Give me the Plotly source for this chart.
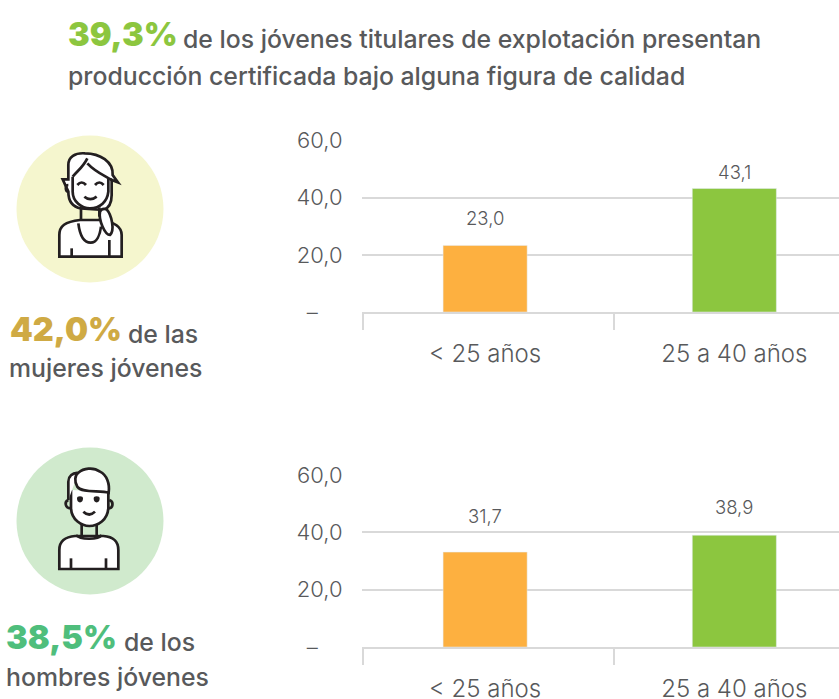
import re
import plotly.graph_objects as go

W, H = 839, 699
categories = ["< 25 años", "25 a 40 años"]
women_bars = [23.3, 43.2]
men_bars = [33.1, 39.0]
women_labels = ["23,0", "43,1"]
men_labels = ["31,7", "38,9"]
y_ticks = [0, 20, 40, 60]
y_ticktext = ["–\u00a0\u00a0\u00a0\u00a0", "20,0", "40,0", "60,0"]
bar_colors = ["#FDB040", "#8CC63F"]

FONT = "Inter"
GREY = "#58595B"
LIGHT = "#D9D9D9"
INK = "#231F20"


def px(x):
    return x / W


def py(y):
    return 1 - y / H


def zpath(d, ox, oy):
    """Icon path written in 3x crop units -> paper fractions."""
    def conv(m):
        x, y = float(m.group(1)), float(m.group(2))
        return f"{px(ox + x / 3):.5f},{py(oy + y / 3):.5f}"
    return re.sub(r"(-?\d+\.?\d*),(-?\d+\.?\d*)", conv, d)


def circle(cx, cy, r, color):
    return dict(type="circle", xref="paper", yref="paper", x0=px(cx - r), x1=px(cx + r),
                y0=py(cy + r), y1=py(cy - r), fillcolor=color, line_width=0, layer="below")


def icon(paths, ox, oy):
    out = []
    for d, fill in paths:
        out.append(dict(type="path", xref="paper", yref="paper", path=zpath(d, ox, oy),
                        fillcolor=fill, line=dict(color=INK, width=2.7), layer="above"))
    return out


T = "rgba(0,0,0,0)"
woman = [
    ("M178,410 L178,345 C178,318 195,305 240,300 L300,300 C340,305 365,320 365,345 L365,410 Z", "white"),
    ("M235,310 C240,350 255,368 272,368 C290,368 300,345 303,320", T),
    ("M215,410 L215,385", T),
    ("M328,410 L328,360", T),
    ("M188,178 L205,178 L205,135 C205,110 225,98 255,100 C300,100 340,125 338,165 L354,187 L335,180 L335,225 C335,250 325,265 310,270 L243,265 C215,260 205,240 205,215 Z", "white"),
    ("M243,262 L243,300", T),
    ("M298,262 L298,290", T),
    ("M218,170 L218,215 C218,245 245,265 270,265 C300,265 322,245 325,215 L325,175", T),
    ("M218,170 C235,150 250,140 262,115", T),
    ("M262,130 C285,155 310,165 335,180", T),
    ("M205,195 C195,195 195,215 205,215", T),
    ("M300,275 C295,300 315,345 330,345 C345,330 335,285 320,268 C310,265 303,268 300,275 Z", "white"),
    ("M232,195 Q245,180 258,195", T),
    ("M285,195 Q298,180 311,195", T),
    ("M253,230 Q271,245 290,230", T),
]
man = [
    ("M178,387 L178,330 C178,305 195,290 225,288 L310,288 C340,290 355,305 355,330 L355,387 Z", "white"),
    ("M228,285 C240,300 295,300 305,285", T),
    ("M245,255 L245,285", T),
    ("M290,255 L290,285", T),
    ("M213,387 L213,355", T),
    ("M318,387 L318,355", T),
    ("M205,180 C192,185 195,205 213,205", T),
    ("M328,180 C342,185 340,205 325,205", T),
    ("M213,150 L213,205 C215,240 245,258 268,258 C295,258 322,240 325,205 L325,155", "white"),
    ("M205,180 L205,125 C205,110 215,100 235,98 C250,85 280,80 300,95 C320,105 330,130 326,158 C300,150 245,160 232,140 C222,125 225,105 235,98", "white"),
    ("M235,175 C235,172 245,172 245,175 C245,186 235,186 235,175 Z", INK),
    ("M285,175 C285,172 295,172 295,175 C295,186 285,186 285,175 Z", INK),
    ("M250,215 Q268,232 285,215", T),
]

fig = go.Figure()
fig.add_trace(go.Bar(x=categories, y=women_bars, marker_color=bar_colors, width=84 / 249,
                     xaxis="x", yaxis="y", hoverinfo="skip"))
fig.add_trace(go.Bar(x=categories, y=men_bars, marker_color=bar_colors, width=84 / 249,
                     xaxis="x2", yaxis="y2", hoverinfo="skip"))

xcommon = dict(type="category", categoryorder="array", categoryarray=categories, automargin=False,
               domain=[px(362), 1], range=[-0.494, 1.42], showline=True, linecolor=LIGHT, linewidth=2,
               showgrid=False, zeroline=False, ticks="outside", ticklen=19, tickcolor=T,
               tickfont=dict(family=FONT, size=24, color=GREY, weight=300))
ycommon = dict(range=[0, 60], tickvals=y_ticks, ticktext=y_ticktext, showgrid=True, gridcolor=LIGHT, gridwidth=2,
               zeroline=False, showline=False, ticks="outside", ticklen=14, tickcolor=T, automargin=False,
               tickfont=dict(family=FONT, size=22, color=GREY, weight=300))

shapes = [circle(90, 209, 73.5, "#F5F6CE"), circle(90, 521, 73.5, "#D0EACD")]
shapes += icon(woman, 0, 120) + icon(man, 0, 440)
for base in (312, 647):
    for xp in (363, 614):
        shapes.append(dict(type="line", xref="paper", yref="paper", x0=px(xp), x1=px(xp),
                           y0=py(base), y1=py(base + 18), line=dict(color=LIGHT, width=2)))


def text(x, y, s, size, color, weight, anchor="left"):
    return dict(xref="paper", yref="paper", x=px(x - 2), y=py(y), text=s, showarrow=False, xanchor=anchor,
                yanchor="middle", align=anchor,
                font=dict(family=FONT, size=size, color=color, weight=weight))


BODY = 24.8
NUM = 32.5
ann = [
    text(68, 34, "39,3%", NUM, "#8CC63F", 900),
    text(183, 39, "de los jóvenes titulares de explotación presentan", BODY, GREY, 500),
    text(68, 76, "producción certificada bajo alguna figura de calidad", BODY, GREY, 500),
    text(10, 329, "42,0%", NUM, "#CFAA44", 900),
    text(128, 334, "de las", BODY, GREY, 500),
    text(9, 368, "mujeres jóvenes", BODY, GREY, 500),
    text(6, 637, "38,5%", NUM, "#4FBE7C", 900),
    text(124, 642, "de los", BODY, GREY, 500),
    text(6, 677, "hombres jóvenes", BODY, GREY, 500),
]

women_shift = [27, 17]
men_shift = [36, 28]
for cat, val, lab, sh in zip(categories, women_bars, women_labels, women_shift):
    ann.append(dict(x=cat, y=val, xref="x", yref="y", text=lab, showarrow=False, yanchor="middle", yshift=sh,
                    font=dict(family=FONT, size=18.5, color=GREY, weight=300)))
for cat, val, lab, sh in zip(categories, men_bars, men_labels, men_shift):
    ann.append(dict(x=cat, y=val, xref="x2", yref="y2", text=lab, showarrow=False, yanchor="middle", yshift=sh,
                    font=dict(family=FONT, size=18.5, color=GREY, weight=300)))

fig.update_layout(
    width=W, height=H, margin=dict(l=0, r=0, t=0, b=0), autosize=False,
    paper_bgcolor="white", plot_bgcolor="white", showlegend=False,
    xaxis=dict(anchor="y", **xcommon), xaxis2=dict(anchor="y2", **xcommon),
    yaxis=dict(anchor="x", domain=[py(312), py(140.5)], **ycommon),
    yaxis2=dict(anchor="x2", domain=[py(647), py(475)], **ycommon),
    shapes=shapes, annotations=ann,
)
fig.write_html("out.html", config=dict(displayModeBar=False),
               post_script="document.body.style.margin='0';")
